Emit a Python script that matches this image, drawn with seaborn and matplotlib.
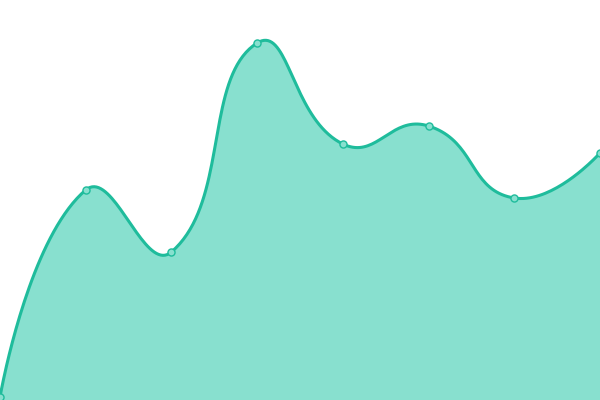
import numpy as np
import pandas as pd
import matplotlib
matplotlib.use("Agg")
import matplotlib.pyplot as plt
import seaborn as sns

# data
steps = [0, 1, 2, 3, 4, 5, 6, 7]
values = [3, 210, 148, 357, 256, 274, 202, 247]

LINE = "#1fbc9c"
FILL = "#88e0cf"
PX_PER_STEP = 600 / 7  # so the smoothing works in screen-like units


def smooth_line(x, y, smooth=0.5, n=40):
    # bezier smoothing through the points, only for drawing the line
    px = np.asarray(x, float) * PX_PER_STEP
    py = np.asarray(y, float)
    k = len(px)
    cp_out = [(px[0], py[0])]  # control point leaving each point
    cp_in = [None]             # control point entering each point
    for i in range(1, k):
        if i < k - 1:
            vx, vy = px[i + 1] - px[i - 1], py[i + 1] - py[i - 1]
            l0 = np.hypot(px[i] - px[i - 1], py[i] - py[i - 1])
            l1 = np.hypot(px[i + 1] - px[i], py[i + 1] - py[i])
            r = l1 / (l0 + l1)
            cp_in.append((px[i] - vx * smooth * (1 - r), py[i] - vy * smooth * (1 - r)))
            cp_out.append((px[i] + vx * smooth * r, py[i] + vy * smooth * r))
        else:
            cp_in.append((px[i], py[i]))
            cp_out.append((px[i], py[i]))
    t = np.linspace(0, 1, n)[:, None]
    segs = []
    for i in range(1, k):
        p0 = np.array([px[i - 1], py[i - 1]])
        p1 = np.array(cp_out[i - 1])
        p2 = np.array(cp_in[i])
        p3 = np.array([px[i], py[i]])
        seg = ((1 - t) ** 3 * p0 + 3 * (1 - t) ** 2 * t * p1
               + 3 * (1 - t) * t ** 2 * p2 + t ** 3 * p3)
        segs.append(seg if i == 1 else seg[1:])
    pts = np.vstack(segs)
    return pts[:, 0] / PX_PER_STEP, pts[:, 1]


df = pd.DataFrame({"step": steps, "value": values})
sx, sy = smooth_line(df["step"], df["value"])
smooth = pd.DataFrame({"step": sx, "value": sy})

sns.set_theme(style="white")
fig = plt.figure(figsize=(6, 4), dpi=100)
ax = fig.add_axes([0, 0, 1, 1])

ax.fill_between(smooth["step"], smooth["value"], 0, color=FILL, linewidth=0)
sns.lineplot(data=smooth, x="step", y="value", ax=ax, color=LINE,
             linewidth=2.2, sort=False)
sns.scatterplot(data=df, x="step", y="value", ax=ax, s=26, color=FILL,
                edgecolor=LINE, linewidth=1, zorder=5)

ax.set_xlim(0, 7)
ax.set_ylim(0, 400)
ax.set_axis_off()

plt.savefig("out.png", dpi=100)
